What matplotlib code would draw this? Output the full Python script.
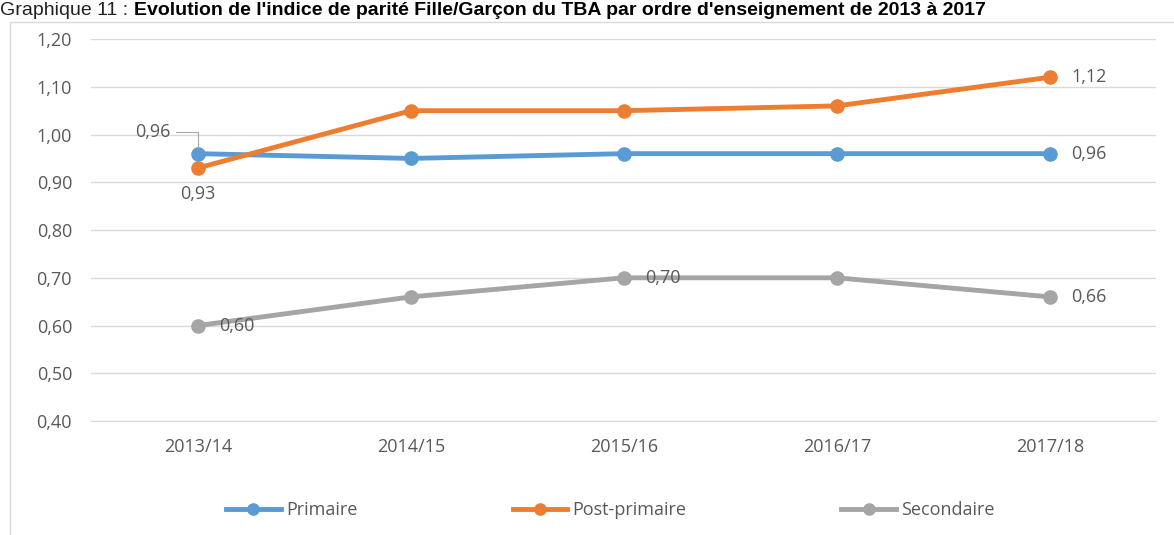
import matplotlib
matplotlib.use('Agg')
import matplotlib.pyplot as plt
from matplotlib.patches import Rectangle

years = ['2013/14', '2014/15', '2015/16', '2016/17', '2017/18']
primaire = [0.96, 0.95, 0.96, 0.96, 0.96]
post_primaire = [0.93, 1.05, 1.05, 1.06, 1.12]
secondaire = [0.60, 0.66, 0.70, 0.70, 0.66]
yticks = [0.40, 0.50, 0.60, 0.70, 0.80, 0.90, 1.00, 1.10, 1.20]

grey = '#595959'
plt.rcParams['font.family'] = ['Open Sans', 'DejaVu Sans']

fig = plt.figure(figsize=(11.74, 5.35), dpi=100)
ax = fig.add_axes([0.0779, 0.213, 0.907, 0.714])

x = range(len(years))
ax.plot(x, primaire, color='#5b9bd5', lw=3.5, marker='o', ms=9.5, label='Primaire', zorder=3)
ax.plot(x, post_primaire, color='#ed7d31', lw=3.5, marker='o', ms=9.5, label='Post-primaire', zorder=4)
ax.plot(x, secondaire, color='#a5a5a5', lw=3.5, marker='o', ms=9.5, label='Secondaire', zorder=3)

def fmt(v):
    return f'{v:.2f}'.replace('.', ',')

lab = dict(fontsize=13, color=grey)
# data labels
ax.annotate(fmt(primaire[0]), xy=(0, primaire[0]), xytext=(-0.13, 1.005),
            ha='right', va='center', **lab,
            arrowprops=dict(arrowstyle='-', color='#a6a6a6', lw=0.8,
                            connectionstyle='angle,angleA=0,angleB=90,rad=0',
                            shrinkA=2, shrinkB=4))
ax.text(0, post_primaire[0] - 0.035, fmt(post_primaire[0]), ha='center', va='top', **lab)
ax.text(4.1, primaire[4], fmt(primaire[4]), ha='left', va='center', **lab)
ax.text(4.1, post_primaire[4], fmt(post_primaire[4]), ha='left', va='center', **lab)
for i in [0, 2, 4]:
    ax.text(i + 0.1, secondaire[i], fmt(secondaire[i]), ha='left', va='center', **lab)

ax.set_xlim(-0.5, 4.5)
ax.set_ylim(0.40, 1.20)
ax.set_yticks(yticks)
ax.set_yticklabels([fmt(v) for v in yticks])
ax.set_xticks(list(x))
ax.set_xticklabels(years)
ax.tick_params(length=0, labelsize=13, labelcolor=grey)
ax.tick_params(axis='x', pad=12)
ax.tick_params(axis='y', pad=14)
ax.grid(axis='y', color='#d9d9d9', lw=1)
ax.set_axisbelow(True)
for s in ['top', 'right', 'left']:
    ax.spines[s].set_visible(False)
ax.spines['bottom'].set_color('#d9d9d9')

fig.legend(loc='center', bbox_to_anchor=(0.52, 0.046), ncol=3, frameon=False,
           fontsize=13, labelcolor=grey, columnspacing=8.6, handlelength=3,
           handletextpad=0.3, markerscale=0.85)

# chart border
fig.patches.append(Rectangle((10 / 1174, -0.1), 1.2, 1 - 22 / 535 + 0.1,
                             transform=fig.transFigure, fill=False,
                             edgecolor='#d9d9d9', lw=1))

# title
ty = 1 - 15 / 535
t1 = fig.text(0.0, ty, 'Graphique 11 : ', ha='left', va='baseline',
              fontsize=14, family='Liberation Sans', color='#222222')
fig.canvas.draw()
bb = t1.get_window_extent()
fig.text(bb.x1 / fig.bbox.width, ty,
         "Evolution de l'indice de parité Fille/Garçon du TBA par ordre d'enseignement de 2013 à 2017",
         ha='left', va='baseline', fontsize=14, weight='bold', family='Liberation Sans')

fig.savefig('out.png', dpi=100)
